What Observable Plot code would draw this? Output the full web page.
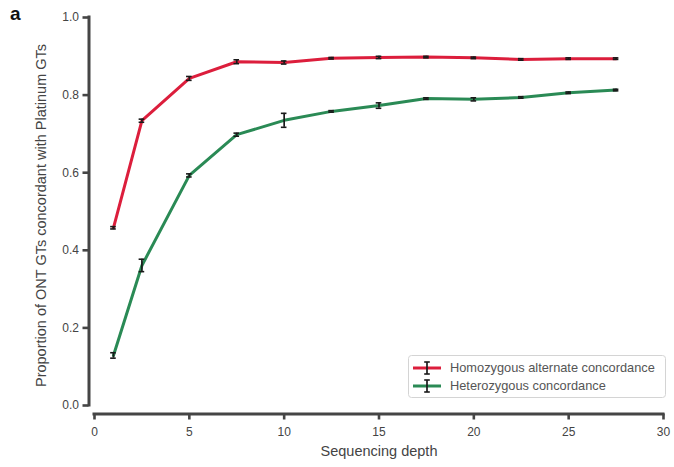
<!DOCTYPE html>
<html>
<head>
<meta charset="utf-8">
<script src="https://cdn.jsdelivr.net/npm/d3@7"></script>
<script src="https://cdn.jsdelivr.net/npm/@observablehq/plot@0.6"></script>
<style>
  body { margin: 0; background: #fff; font-family: "Liberation Sans", Arial, sans-serif; }
  #wrap { position: relative; width: 674px; height: 467px; }
  #panel { position: absolute; left: 10px; top: 3px; font-weight: bold; font-size: 19px; color: #111; }
  #legend { position: absolute; left: 408px; top: 355px; }
</style>
</head>
<body>
<div id="wrap">
  <div id="chart"></div>
  <div id="panel">a</div>
  <div id="legend"></div>
</div>
<script>
const depth = [1, 2.5, 5, 7.5, 10, 12.5, 15, 17.5, 20, 22.5, 25, 27.5];
const homAlt = [0.458, 0.734, 0.843, 0.886, 0.884, 0.895, 0.897, 0.898, 0.896, 0.892, 0.894, 0.894];
const homAltErr = [0.003, 0.004, 0.005, 0.005, 0.004, 0.002, 0.003, 0.002, 0.002, 0.002, 0.002, 0.002];
const het = [0.129, 0.361, 0.593, 0.698, 0.735, 0.758, 0.773, 0.791, 0.789, 0.794, 0.806, 0.813];
const hetErr = [0.007, 0.016, 0.004, 0.004, 0.018, 0.002, 0.007, 0.002, 0.004, 0.002, 0.002, 0.002];
const seriesNames = ["Homozygous alternate concordance", "Heterozygous concordance"];
const colors = ["#dc1e3c", "#2a8a55"];
const xTicks = [0, 5, 10, 15, 20, 25, 30];
const yTicks = [0, 0.2, 0.4, 0.6, 0.8, 1.0];
const xLabel = "Sequencing depth";
const yLabel = "Proportion of ONT GTs concordant with Platinum GTs";

const rows = [];
depth.forEach((d, i) => {
  rows.push({depth: d, v: homAlt[i], e: homAltErr[i], s: seriesNames[0]});
});
depth.forEach((d, i) => {
  rows.push({depth: d, v: het[i], e: hetErr[i], s: seriesNames[1]});
});

const spine = "#454545";
const txt = "#444";
const chart = Plot.plot({
  width: 674,
  height: 467,
  marginTop: 17,
  marginBottom: 62,
  marginLeft: 94,
  marginRight: 11,
  style: {fontFamily: "'Liberation Sans', Arial, sans-serif", fontSize: "12px", color: txt, background: "#fff", overflow: "visible"},
  x: {domain: [0, 30]},
  y: {domain: [0, 1]},
  color: {domain: seriesNames, range: colors},
  marks: [
    Plot.ruleX([0], {y1: 0, y2: 1, dx: -5.5, stroke: spine, strokeWidth: 3, strokeLinecap: "square"}),
    Plot.axisY({ticks: yTicks, tickFormat: ".1f", dx: -5.5, tickSize: 6, tickPadding: 4, stroke: spine, strokeWidth: 2.6, strokeOpacity: 1, label: null, fontSize: 12, fill: txt}),
    Plot.ruleY([0], {x1: 0, x2: 30, dy: 8.5, stroke: spine, strokeWidth: 3, strokeLinecap: "square"}),
    Plot.axisX({ticks: xTicks, dy: 8.5, tickSize: 6, tickPadding: 7, stroke: spine, strokeWidth: 2.6, strokeOpacity: 1, label: null, fontSize: 12, fill: txt}),
    Plot.text([yLabel], {frameAnchor: "left", textAnchor: "middle", rotate: -90, dx: -53, dy: 4, fontSize: 14.5, fill: txt}),
    Plot.text([xLabel], {frameAnchor: "bottom", textAnchor: "middle", lineAnchor: "middle", dy: 46, fontSize: 14.5, fill: txt}),
    Plot.line(rows, {x: "depth", y: "v", z: "s", stroke: "s", strokeWidth: 3}),
    Plot.ruleX(rows, {x: "depth", y1: d => d.v - d.e, y2: d => d.v + d.e, stroke: "#1a1a1a", strokeWidth: 1.7}),
    Plot.ruleY(rows, {x1: "depth", x2: "depth", y: d => d.v - d.e, insetLeft: -2.8, insetRight: -2.8, stroke: "#1a1a1a", strokeWidth: 1.6}),
    Plot.ruleY(rows, {x1: "depth", x2: "depth", y: d => d.v + d.e, insetLeft: -2.8, insetRight: -2.8, stroke: "#1a1a1a", strokeWidth: 1.6})
  ]
});
document.getElementById("chart").appendChild(chart);

// legend
const lg = d3.select("#legend").append("svg").attr("width", 259).attr("height", 44)
  .style("font-family", "'Liberation Sans', Arial, sans-serif");
lg.append("rect").attr("x", 0.5).attr("y", 0.5).attr("width", 257).attr("height", 42).attr("rx", 3)
  .attr("fill", "#fff").attr("stroke", "#d4d4d4");
seriesNames.forEach((name, i) => {
  const cy = 13 + i * 18;
  const g = lg.append("g");
  g.append("line").attr("x1", 5).attr("x2", 33).attr("y1", cy).attr("y2", cy).attr("stroke", colors[i]).attr("stroke-width", 3);
  g.append("line").attr("x1", 19).attr("x2", 19).attr("y1", cy - 6).attr("y2", cy + 6).attr("stroke", "#1a1a1a").attr("stroke-width", 1.7);
  g.append("line").attr("x1", 16.2).attr("x2", 21.8).attr("y1", cy - 6).attr("y2", cy - 6).attr("stroke", "#1a1a1a").attr("stroke-width", 1.6);
  g.append("line").attr("x1", 16.2).attr("x2", 21.8).attr("y1", cy + 6).attr("y2", cy + 6).attr("stroke", "#1a1a1a").attr("stroke-width", 1.6);
  g.append("text").attr("x", 42).attr("y", cy).attr("dy", "0.35em").attr("font-size", 12.8).attr("fill", "#555").text(name);
});
</script>
</body>
</html>
